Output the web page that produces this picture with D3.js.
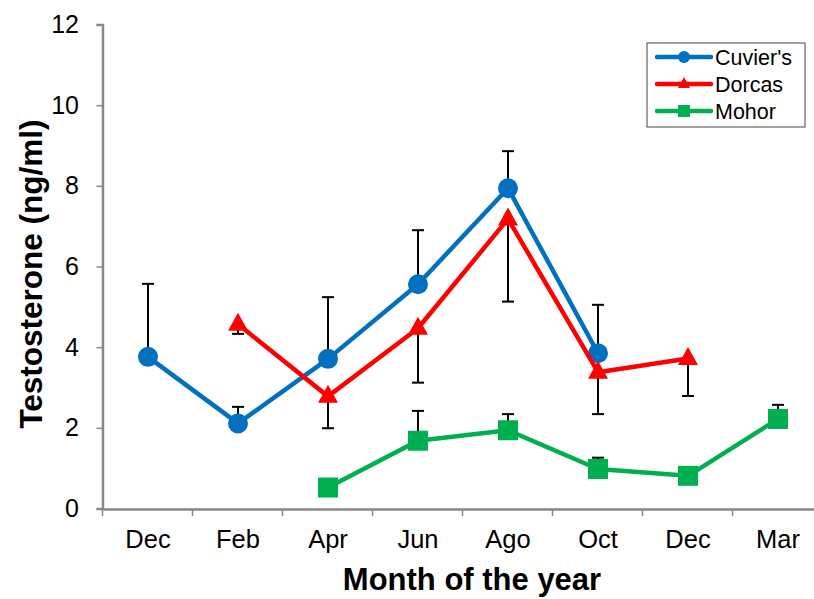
<!DOCTYPE html>
<html>
<head>
<meta charset="utf-8">
<script src="https://cdn.jsdelivr.net/npm/d3@7"></script>
<style>
  body { margin: 0; background: #fff; }
  svg { font-family: "Liberation Sans", Arial, sans-serif; }
</style>
</head>
<body>
<svg id="chart" width="814" height="599"></svg>
<script>
const months = ["Dec", "Feb", "Apr", "Jun", "Ago", "Oct", "Dec ", "Mar"];
const yTicks = [0, 2, 4, 6, 8, 10, 12];

// null = no sample that month
const cuvier = [3.76, 2.11, 3.71, 5.56, 7.94, 3.85, null, null];
const dorcas = [null, 4.57, 2.78, 4.47, 7.18, 3.38, 3.72, null];
const mohor = [null, null, 0.52, 1.68, 1.94, 0.98, 0.81, 2.22];

// error bar lengths (Cuvier's and Mohor go up, Dorcas goes down)
const cuvierErr = [1.81, 0.41, 1.53, 1.34, 0.92, 1.2, null, null];
const dorcasErr = [null, 0.24, 0.79, 1.35, 2.05, 1.04, 0.93, null];
const mohorErr = [null, null, 0, 0.74, 0.4, 0.28, 0, 0.35];

const series = [
  { name: "Cuvier's", values: cuvier, err: cuvierErr, dir: 1, color: "#0070C0", shape: "circle" },
  { name: "Dorcas", values: dorcas, err: dorcasErr, dir: -1, color: "#FF0000", shape: "triangle" },
  { name: "Mohor", values: mohor, err: mohorErr, dir: 1, color: "#00B050", shape: "square" }
];

const svg = d3.select("#chart");
const axisColor = "#878787";

const x = d3.scaleBand().domain(months).range([103, 823]);
const y = d3.scaleLinear().domain([0, 12]).range([508.5, 24.5]);

// y axis
const yAxis = svg.append("g")
  .attr("transform", "translate(102.5,0)")
  .call(d3.axisLeft(y).tickValues(yTicks).tickSize(6).tickPadding(17.5));
yAxis.select(".domain").attr("stroke", axisColor).attr("stroke-width", 2.5);
yAxis.selectAll(".tick line").attr("stroke", axisColor).attr("stroke-width", 1.5);
yAxis.selectAll(".tick text").attr("font-size", 25).attr("fill", "#000");

// x axis
const xAxis = svg.append("g")
  .attr("transform", "translate(0,509)")
  .call(d3.axisBottom(x).tickSize(0).tickPadding(21));
xAxis.select(".domain").attr("stroke", axisColor).attr("stroke-width", 2.5);
xAxis.selectAll(".tick text").attr("font-size", 25.5).attr("fill", "#000");

// category boundary ticks
svg.append("g").selectAll("line")
  .data(months)
  .join("line")
  .attr("x1", d => x(d) - 0.5).attr("x2", d => x(d) - 0.5)
  .attr("y1", 509).attr("y2", 516)
  .attr("stroke", axisColor).attr("stroke-width", 1.5);

// axis titles
svg.append("text")
  .attr("x", 472).attr("y", 590)
  .attr("text-anchor", "middle")
  .attr("font-size", 31).attr("font-weight", "bold")
  .text("Month of the year");

svg.append("text")
  .attr("transform", "translate(42,274) rotate(-90)")
  .attr("text-anchor", "middle")
  .attr("font-size", 31.5).attr("font-weight", "bold")
  .text("Testosterone (ng/ml)");

const cx = i => x(months[i]) + x.bandwidth() / 2;

function marker(g, shape, color, px, py) {
  if (shape === "circle") {
    g.append("circle").attr("cx", px).attr("cy", py).attr("r", 10).attr("fill", color);
  } else if (shape === "triangle") {
    g.append("path")
      .attr("d", `M${px},${py - 11.5}L${px + 10},${py + 6.5}L${px - 10},${py + 6.5}Z`)
      .attr("fill", color);
  } else {
    g.append("rect").attr("x", px - 10).attr("y", py - 10)
      .attr("width", 20).attr("height", 20).attr("fill", color);
  }
}

series.forEach(s => {
  const g = svg.append("g");
  const pts = s.values.map((v, i) => ({ i, v, e: s.err[i] })).filter(d => d.v != null);

  const line = d3.line().x(d => cx(d.i)).y(d => y(d.v));
  g.append("path")
    .attr("d", line(pts))
    .attr("fill", "none")
    .attr("stroke", s.color)
    .attr("stroke-width", 4.5)
    .attr("stroke-linejoin", "round");

  pts.filter(d => d.e > 0).forEach(d => {
    const end = y(d.v + s.dir * d.e);
    g.append("line")
      .attr("x1", cx(d.i)).attr("x2", cx(d.i))
      .attr("y1", y(d.v)).attr("y2", end)
      .attr("stroke", "#000").attr("stroke-width", 2);
    g.append("line")
      .attr("x1", cx(d.i) - 6).attr("x2", cx(d.i) + 6)
      .attr("y1", end).attr("y2", end)
      .attr("stroke", "#000").attr("stroke-width", 2);
  });

  pts.forEach(d => marker(g, s.shape, s.color, cx(d.i), y(d.v)));
});

// legend
const legend = svg.append("g");
legend.append("rect")
  .attr("x", 647).attr("y", 43).attr("width", 158).attr("height", 84)
  .attr("fill", "#fff").attr("stroke", "#444").attr("stroke-width", 1);

series.forEach((s, k) => {
  const ly = 57 + k * 27;
  legend.append("line")
    .attr("x1", 657).attr("x2", 711).attr("y1", ly).attr("y2", ly)
    .attr("stroke", s.color).attr("stroke-width", 4.5).attr("stroke-linecap", "round");
  const mg = legend.append("g").attr("transform", `translate(684,${ly}) scale(0.6)`);
  marker(mg, s.shape, s.color, 0, 0);
  legend.append("text")
    .attr("x", 715).attr("y", ly + 7.5)
    .attr("font-size", 21.5)
    .text(s.name);
});
</script>
</body>
</html>
